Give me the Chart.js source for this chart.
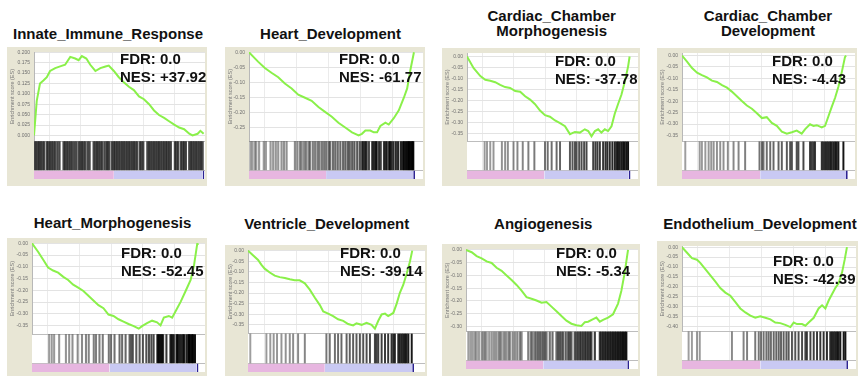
<!DOCTYPE html>
<html>
<head>
<meta charset="utf-8">
<script src="https://cdn.jsdelivr.net/npm/chart.js@4.4.0/dist/chart.umd.min.js"></script>
<style>
  body { margin: 0; width: 858px; height: 376px; position: relative; overflow: hidden; background: #fff;
         font-family: "Liberation Sans", Arial, sans-serif; }
  .ttl { position: absolute; width: 240px; text-align: center; font-weight: bold; font-size: 15px;
         line-height: 15px; color: #111; white-space: nowrap; z-index: 2; }
  .stats { position: absolute; font-weight: bold; font-size: 15px; line-height: 18px; color: #111;
           white-space: nowrap; z-index: 2; }
  .box { position: absolute; }
  canvas { display: block; }
</style>
</head>
<body>
<script>
// gene set names as printed (two-line ones kept on two lines)
const titles = [
  ["Innate_Immune_Response"], ["Heart_Development"], ["Cardiac_Chamber", "Morphogenesis"],
  ["Cardiac_Chamber", "Development"], ["Heart_Morphogenesis"], ["Ventricle_Development"],
  ["Angiogenesis"], ["Endothelium_Development"]
];
const fdrValues = ["0.0", "0.0", "0.0", "0.0", "0.0", "0.0", "0.0", "0.0"];
const nesValues = ["+37.92", "-61.77", "-37.78", "-4.43", "-52.45", "-39.14", "-5.34", "-42.39"];

// running enrichment score: [rank in list (% of plot width), ES]
const innateES = [[0,0],[1.6,0.083],[3.5,0.125],[5.5,0.132],[7.5,0.14],[9.4,0.155],[12.4,0.162],[15.3,0.166],[18.2,0.17],[21.2,0.189],[24.1,0.185],[26.1,0.181],[28,0.191],[30.6,0.185],[32.9,0.17],[35.9,0.155],[38.8,0.162],[41.8,0.166],[43.7,0.168],[46.7,0.155],[49.6,0.14],[52.5,0.128],[55.5,0.117],[58.4,0.109],[61.4,0.094],[64.3,0.087],[67.3,0.075],[70.2,0.06],[73.1,0.049],[76.1,0.042],[79,0.034],[82,0.026],[84.9,0.019],[87.8,0.015],[90.8,0.004],[92.7,0],[95.7,0.004],[97.3,0.011],[99.2,0.004]];
const heartDevES = [[0,0],[5.2,-0.031],[9.1,-0.052],[12.9,-0.068],[16.8,-0.083],[20.6,-0.104],[24.5,-0.12],[28.3,-0.141],[32.2,-0.151],[36,-0.161],[39.9,-0.182],[43.7,-0.198],[47.6,-0.214],[51.4,-0.234],[55.3,-0.25],[59.2,-0.266],[63,-0.276],[64.9,-0.271],[66.9,-0.26],[69.7,-0.26],[71.7,-0.266],[73.6,-0.266],[75.5,-0.245],[78.4,-0.234],[80.3,-0.24],[83.2,-0.219],[86.1,-0.193],[89,-0.151],[90.9,-0.12],[92.8,-0.057],[94.8,0]];
const chamberMorphES = [[0,0],[3.9,-0.053],[7.8,-0.089],[10.7,-0.106],[13.6,-0.11],[16.5,-0.117],[19.4,-0.129],[22.3,-0.139],[25.2,-0.143],[28.2,-0.157],[31.1,-0.16],[34,-0.181],[36.9,-0.196],[39.8,-0.217],[42.7,-0.246],[45.6,-0.267],[48.5,-0.274],[51.5,-0.291],[54.4,-0.303],[57.3,-0.317],[60.2,-0.353],[63.1,-0.343],[66,-0.346],[68.9,-0.331],[70.9,-0.339],[72.8,-0.363],[74.8,-0.339],[76.7,-0.331],[78.6,-0.346],[80.6,-0.331],[82.5,-0.339],[84.5,-0.317],[86.4,-0.26],[88.3,-0.217],[90.3,-0.174],[92.2,-0.117],[94.2,-0.046],[95.1,0]];
const chamberDevES = [[0,0],[2.9,-0.027],[5.8,-0.055],[8.7,-0.075],[11.5,-0.086],[14.4,-0.096],[17.3,-0.11],[20.2,-0.116],[23.1,-0.13],[26,-0.141],[28.8,-0.158],[31.7,-0.178],[34.6,-0.199],[37.5,-0.219],[40.4,-0.233],[43.3,-0.253],[46.2,-0.274],[49,-0.27],[51.9,-0.295],[54.8,-0.308],[57.7,-0.333],[60.6,-0.342],[63.5,-0.336],[66.3,-0.329],[69.2,-0.342],[71.2,-0.322],[74,-0.301],[76,-0.308],[77.9,-0.305],[80.8,-0.315],[82.7,-0.308],[84.6,-0.267],[86.5,-0.226],[88.5,-0.185],[90.4,-0.137],[92.3,-0.075],[94.2,-0.007],[94.8,0]];
const heartMorphES = [[0,0],[3.5,-0.036],[6.4,-0.069],[9.3,-0.103],[12.2,-0.116],[15.1,-0.125],[18.1,-0.143],[20.9,-0.156],[23.8,-0.176],[26.7,-0.189],[29.7,-0.203],[32.6,-0.223],[35.5,-0.243],[38.4,-0.263],[41.3,-0.276],[44.2,-0.303],[47.1,-0.309],[50,-0.323],[52.9,-0.333],[55.8,-0.343],[58.8,-0.352],[61.7,-0.363],[63.6,-0.352],[66.5,-0.339],[69.4,-0.329],[72.3,-0.336],[74.3,-0.349],[76.2,-0.316],[79.1,-0.309],[81,-0.316],[83,-0.289],[85.9,-0.249],[88.8,-0.203],[91.7,-0.156],[93.6,-0.096],[95.5,-0.003],[95.8,0]];
const ventricleES = [[0,0],[2.8,-0.022],[5.7,-0.044],[7.5,-0.066],[9.4,-0.085],[12.3,-0.103],[15.1,-0.118],[17.9,-0.125],[20.8,-0.129],[23.6,-0.135],[26.4,-0.14],[29.2,-0.14],[32.1,-0.154],[34.9,-0.184],[37.7,-0.221],[40.6,-0.257],[42.5,-0.287],[45.3,-0.297],[48.1,-0.309],[50.9,-0.324],[53.8,-0.331],[56.6,-0.346],[59.4,-0.353],[61.3,-0.343],[64.2,-0.35],[67,-0.341],[69.8,-0.35],[71.7,-0.368],[73.6,-0.331],[75.5,-0.301],[77.4,-0.297],[79.2,-0.309],[82.1,-0.294],[84,-0.25],[85.8,-0.199],[87.7,-0.162],[89.6,-0.11],[91.5,-0.051],[92.8,0]];
const angioES = [[0,0],[3.3,-0.009],[6.2,-0.024],[9.1,-0.033],[12,-0.045],[14.9,-0.051],[17.8,-0.07],[20.7,-0.082],[23.6,-0.1],[26.5,-0.118],[29.4,-0.137],[32.3,-0.159],[35.2,-0.185],[38.1,-0.191],[41,-0.198],[43.9,-0.207],[46.8,-0.204],[49.7,-0.222],[52.6,-0.24],[55.5,-0.259],[58.4,-0.277],[61.3,-0.289],[64.2,-0.295],[67.1,-0.298],[69.1,-0.283],[71,-0.281],[73.9,-0.271],[75.8,-0.265],[77.8,-0.281],[79.7,-0.274],[82.6,-0.265],[85.5,-0.252],[88.4,-0.21],[90.3,-0.161],[92.3,-0.088],[94.2,0]];
const endoES = [[0,0],[2.9,-0.028],[5.7,-0.055],[8.6,-0.063],[10.5,-0.079],[13.4,-0.111],[16.3,-0.142],[19.2,-0.174],[22,-0.206],[24.9,-0.229],[27.8,-0.245],[30.7,-0.277],[33.5,-0.309],[36.4,-0.329],[39.3,-0.345],[42.1,-0.356],[45,-0.348],[47.9,-0.356],[50.8,-0.364],[53.6,-0.38],[56.5,-0.383],[59.4,-0.392],[62.3,-0.403],[64.2,-0.38],[66.1,-0.388],[69,-0.388],[70.9,-0.396],[72.8,-0.38],[75.7,-0.356],[78.5,-0.309],[80.5,-0.293],[82.4,-0.309],[84.3,-0.269],[86.2,-0.237],[88.1,-0.206],[90,-0.182],[92,-0.127],[93.5,-0.063],[94.8,0]];

// positions of gene-set members in the ranked list (barcode)
const innateHits = [0.2,1.2,2.2,3.1,3.9,4.9,5.9,7.5,8.4,9.4,10.4,11.4,12.4,13.7,14.9,17.3,18.2,19.2,20.2,21.2,22.2,23.5,24.7,26.1,27.1,28,29,30,31.4,32.5,34.9,35.9,36.9,37.8,38.8,39.8,41.2,42.4,43.1,44.1,45.7,46.7,47.6,48.6,49.6,50.6,51.6,52.5,53.5,54.5,55.5,56.5,57.5,58.4,59.4,60.4,62,62.9,63.9,66.3,67.3,68.2,69.2,70.2,71.2,72.2,73.1,74.1,75.1,76.1,77.1,78,79,80,82.4,83.3,84.3,85.9,86.9,87.8,88.8,90.8,91.8,92.7,93.7,94.7,95.7,96.7,97.6,98.6];
const heartDevHits = [0.8,1.9,3.3,4.2,5.8,8.5,9.7,12.4,13.9,15.4,16.8,18.7,20.1,21.6,26.4,27.8,29.3,30.3,31.7,32.8,34.2,35.1,36.7,38,39.4,40.5,41.9,43.2,44.4,45.8,46.7,48.3,49.6,51,52.5,54.1,55.4,56.8,57.9,59.3,60.6,62.2,63.7,65,65.6,66.4,67,67.6,68.9,70.8,71.5,72.2,73,73.4,74.7,75.7,77.6,78.5,79.2,80.5,81.1,81.9,83,84.4,85.7,87.3,88.5,89.2,90,90.7,91.5,92,92.7,93.4,94,94.4];
const chamberMorphHits = [10.3,11.7,13.6,15.5,20.4,22.3,23.9,27.2,29.5,32.6,35.9,39.4,45.6,47.2,49.5,52.4,54.4,60.2,61.7,63.1,64.1,65.6,67,68.5,69.9,73.8,75.1,76.3,77.7,79.6,81,82.1,83.5,85,86.4,87.4,88.3,89.3,90.3,91.3,92.2,93.2,94.2];
const chamberDevHits = [1.9,10.2,11.5,13.5,15.4,16.9,18.3,20.2,22.1,24,26.5,29.8,32.7,36.5,44.8,46.2,47.1,49,51,52.9,55.8,57.7,60.6,62.5,63.5,66.3,67.3,70.2,74,75,76,76.9,80.8,81.7,82.7,83.7,84.6,85.6,86.5,87.5,88.5,89.4,90.4,93.3];
const heartMorphHits = [9.9,11.4,12.8,15.7,19.6,21.5,23.4,26.4,28.9,31.2,32.8,35.7,37,39,40.9,44.4,45.7,47.7,50.6,52.1,54.1,56.4,57.4,58.3,60.3,62.2,64.1,66.1,67.6,69,70.3,72.4,72.9,73.3,73.8,74.3,74.8,75.3,75.8,77.7,80,80.6,81.2,82,83.5,84,84.5,85.5,86.5,87.4,88,89.3,90.3,90.8,91.3,92.2,92.7,93.2,94.2];
const ventricleHits = [1.3,10.4,12.6,14.5,16.4,18.9,21.3,23.6,25.5,28.3,32.1,44.3,46.2,49.1,50.9,52.8,55.7,57.5,59.4,61.3,63.2,65.1,67,68.9,71.7,72.6,73.6,75.5,77.4,79.2,81.1,82.1,83,84.9,85.8,86.8,87.7,88.7,89.6,90.6,92.5];
const angioHits = [1.4,2.7,3.9,5.2,6.2,7.5,9.1,10.1,11,12,13.5,14.9,16.2,17.4,18.8,19.7,20.7,22.1,23.2,24.6,25.5,27.1,28.4,29.8,31.3,32.3,36.2,37.7,38.7,40,41,42,42.9,43.9,44.9,45.8,46.8,48.7,50.3,52.6,53.6,54.5,55.5,56.5,58,59.4,60.3,61.3,63.2,64.2,65.2,66.2,67.1,68.1,69.1,70,71,72,72.9,74.9,77.8,78.7,79.7,80.7,81.6,82.6,83.6,84.5,85.5,86.5,87.4,88.4,89.4,90.3,91.3,92.3,93.2];
const endoHits = [3.8,5.7,8.6,10.2,28.7,35.4,37.4,42.1,44.1,45.4,46.9,48.5,49.8,51.1,52.7,54.2,55.6,56.9,58.4,60,61.3,63.2,65.1,67,69,70.9,71.8,73.8,75.7,77.6,79.5,81.4,83.3,85.2,86.2,87.2,88.1,89.1,90,91,92.9,93.9];

// ranked-list colour bar: end of the pink (positive) part and end of the list
const rankSplit = [46.7, 44.3, 45.2, 45.2, 44.8, 43.4, 44.9, 45.0];
const listEnd = [98.6, 94.4, 94.6, 94.8, 95.2, 92.8, 93.8, 94.4];

const curves = [innateES, heartDevES, chamberMorphES, chamberDevES, heartMorphES, ventricleES, angioES, endoES];
const hitSets = [innateHits, heartDevHits, chamberMorphHits, chamberDevHits, heartMorphHits, ventricleHits, angioHits, endoHits];

// layout of each panel (frame box, axis width, stacked heights, axis range, text spots)
const frames = [
  { x: 7,   y: 47,  w: 200, axis: 27, es: 95, hit: 31, rank: 9, min: -0.0143, max: 0.2007, step: 0.025, dig: 3, tx: 108,   ty: 26,    sx: 120, sy: 50,  bar: 1.6 },
  { x: 225, y: 47,  w: 200, axis: 24, es: 95, hit: 31, rank: 9, min: -0.296,  max: 0.001,  step: 0.05,  dig: 2, tx: 330.5, ty: 26,    sx: 339, sy: 50,  bar: 1.5 },
  { x: 442, y: 48,  w: 198, axis: 25, es: 94, hit: 31, rank: 9, min: -0.386,  max: 0.0158, step: 0.05,  dig: 2, tx: 551.7, ty: 8,     sx: 555, sy: 52,  bar: 1.3 },
  { x: 657, y: 48,  w: 200, axis: 25, es: 94, hit: 31, rank: 9, min: -0.376,  max: 0.011,  step: 0.05,  dig: 2, tx: 768,   ty: 8,     sx: 772, sy: 52,  bar: 1.3 },
  { x: 7,   y: 238, w: 200, axis: 25, es: 97, hit: 31, rank: 9, min: -0.387,  max: 0.001,  step: 0.05,  dig: 2, tx: 112.5, ty: 215,   sx: 121, sy: 244, bar: 1.4 },
  { x: 225, y: 245, w: 202, axis: 23, es: 89, hit: 32, rank: 9, min: -0.391,  max: 0.003,  step: 0.05,  dig: 2, tx: 326.7, ty: 215.5, sx: 340, sy: 244, bar: 1.3 },
  { x: 442, y: 244, w: 198, axis: 24, es: 88, hit: 31, rank: 9, min: -0.3195, max: 0.0037, step: 0.05,  dig: 2, tx: 543.3, ty: 215.5, sx: 556, sy: 244, bar: 1.5 },
  { x: 657, y: 241, w: 201, axis: 25, es: 91, hit: 31, rank: 9, min: -0.425,  max: 0.006,  step: 0.05,  dig: 2, tx: 760,   ty: 216,   sx: 773, sy: 252, bar: 1.3 }
];

const BEIGE = "#e8e6d5";
const LIME = "#8af04a";
const EXTRA = 2; // canvas starts a little above the frame so top tick labels are not cut

const hitShade = (i, r) => i === 0
  ? "rgba(25,25,25,0.8)"
  : `rgba(0,0,0,${(0.38 + 0.6 * Math.pow(r / 100, 1.6)).toFixed(2)})`;

const rankBand = (axisId, from, to, color) => ({
  type: "line",
  yAxisID: axisId,
  data: [{ x: from, y: 1 }, { x: to, y: 1 }],
  borderColor: "transparent",
  borderWidth: 0,
  pointRadius: 0,
  backgroundColor: color,
  fill: "origin"
});

const framePaint = (f) => ({
  id: "framePaint",
  beforeDraw(chart) {
    const { ctx, chartArea: a, width, height } = chart;
    ctx.save();
    ctx.fillStyle = BEIGE;
    ctx.fillRect(0, EXTRA, width, height - EXTRA);
    ctx.fillStyle = "#fff";
    ctx.fillRect(a.left, a.top, a.right - a.left, a.bottom - a.top);
    ctx.restore();
  }
});

titles.forEach((lines, i) => {
  const f = frames[i];
  const h = 1 + f.es + f.hit + f.rank + 3;

  const title = document.createElement("div");
  title.className = "ttl";
  title.style.left = (f.tx - 120) + "px";
  title.style.top = f.ty + "px";
  title.innerHTML = lines.join("<br>");
  document.body.appendChild(title);

  const box = document.createElement("div");
  box.className = "box";
  box.style.left = f.x + "px";
  box.style.top = (f.y - EXTRA) + "px";
  const cv = document.createElement("canvas");
  cv.width = f.w;
  cv.height = h + EXTRA;
  cv.style.width = f.w + "px";
  cv.style.height = (h + EXTRA) + "px";
  box.appendChild(cv);
  document.body.appendChild(box);

  const fixW = (s) => { s.width = f.axis; };

  new Chart(cv, {
    type: "line",
    data: {
      datasets: [
        {
          type: "line",
          yAxisID: "y",
          data: curves[i].map(p => ({ x: p[0], y: p[1] })),
          borderColor: LIME,
          borderWidth: 2,
          pointRadius: 0,
          tension: 0,
          fill: false
        },
        {
          type: "bar",
          yAxisID: "yHit",
          data: hitSets[i].map(r => ({ x: r, y: 1 })),
          barThickness: f.bar,
          grouped: false,
          borderWidth: 0,
          backgroundColor: ctx => hitShade(i, ctx.raw ? ctx.raw.x : 0)
        },
        rankBand("yRank", 0, rankSplit[i], "#e7b6e0"),
        rankBand("yRank", rankSplit[i], listEnd[i], "#c9c9f3"),
        rankBand("yRank", listEnd[i], listEnd[i] + 1, "#2b2190")
      ]
    },
    options: {
      responsive: false,
      animation: false,
      events: [],
      layout: { autoPadding: false, padding: { left: 0, right: 2, top: 1 + EXTRA, bottom: 3 } },
      plugins: { legend: { display: false }, tooltip: { enabled: false } },
      scales: {
        x: {
          type: "linear", min: 0, max: 100, offset: false,
          ticks: { display: false, stepSize: 18.3, includeBounds: false },
          grid: { color: "#ebebeb", drawTicks: false },
          border: { display: false },
          afterFit: s => { s.height = 0; }
        },
        y: {
          type: "linear", position: "left", stack: "gsea", stackWeight: f.es, weight: 3,
          min: f.min, max: f.max,
          ticks: {
            stepSize: f.step, includeBounds: false, autoSkip: false, padding: 4,
            color: "#707070", font: { size: 5, family: "Liberation Sans" },
            callback: v => (Math.abs(v) < 1e-9 ? 0 : v).toFixed(f.dig)
          },
          grid: { color: "#e3e3e3", drawTicks: false },
          border: { color: "#b8b8b8" },
          title: {
            display: true, text: "Enrichment score (ES)", color: "#7a7a7a",
            font: { size: 5.5, family: "Liberation Sans" }, padding: { top: 2, bottom: 0 }
          },
          afterFit: fixW
        },
        yHit: {
          type: "linear", position: "left", stack: "gsea", stackWeight: f.hit, weight: 2,
          min: 0, max: 1,
          ticks: { display: false, stepSize: 1 },
          grid: { color: "#bdbdbd", drawTicks: false },
          border: { display: false },
          afterFit: fixW
        },
        yRank: {
          type: "linear", position: "left", stack: "gsea", stackWeight: f.rank, weight: 1,
          min: 0, max: 1,
          ticks: { display: false },
          grid: { display: false },
          border: { display: false },
          afterFit: fixW
        }
      }
    },
    plugins: [framePaint(f)]
  });

  const stats = document.createElement("div");
  stats.className = "stats";
  stats.style.left = f.sx + "px";
  stats.style.top = f.sy + "px";
  stats.innerHTML = `FDR: ${fdrValues[i]}<br>NES: ${nesValues[i]}`;
  document.body.appendChild(stats);
});
</script>
</body>
</html>
